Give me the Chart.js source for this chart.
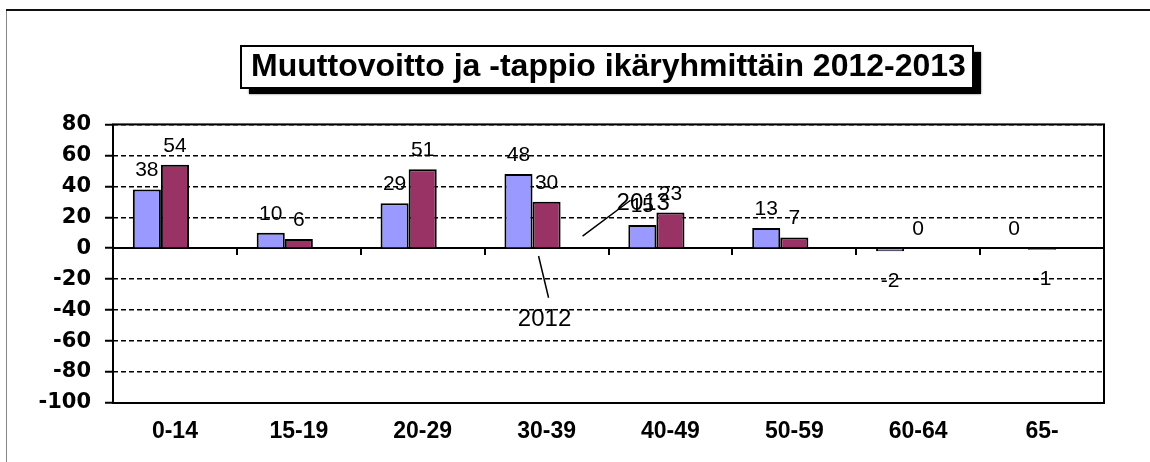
<!DOCTYPE html>
<html>
<head>
<meta charset="utf-8">
<script src="https://cdn.jsdelivr.net/npm/chart.js@4"></script>
<style>
  body { margin: 0; background: #fff; }
  #wrap { width: 1150px; height: 462px; }
</style>
</head>
<body>
<div id="wrap"><canvas id="myChart" width="1150" height="462"></canvas></div>
<script>
const ctx = document.getElementById('myChart');

const ikaryhmat = ['0-14', '15-19', '20-29', '30-39', '40-49', '50-59', '60-64', '65-'];
const muutto2012 = [38, 10, 29, 48, 15, 13, -2, 0];
const muutto2013 = [54, 6, 51, 30, 23, 7, 0, -1];
const yTicks = [80, 60, 40, 20, 0, -20, -40, -60, -80, -100];
const otsikko = 'Muuttovoitto ja -tappio ikäryhmittäin 2012-2013';

const FONT = "'Liberation Sans', Arial, sans-serif";
const LEVEA = "'DejaVu Sans', sans-serif";

// kehys, otsikkolaatikko, nollaviiva, arvot ja vuosiselitteet
const koristeet = {
    id: 'koristeet',
    beforeDraw(chart) {
        const c = chart.ctx;
        c.save();
        c.fillStyle = '#fff';
        c.fillRect(0, 0, chart.width, chart.height);
        // ulkokehys
        c.strokeStyle = '#888';
        c.lineWidth = 1;
        c.beginPath();
        c.moveTo(6.5, 10);
        c.lineTo(6.5, chart.height);
        c.stroke();
        c.strokeStyle = '#111';
        c.lineWidth = 2;
        c.beginPath();
        c.moveTo(6, 10);
        c.lineTo(chart.width, 10);
        c.stroke();

        // otsikon laatikko
        const tb = chart.titleBlock;
        c.font = 'bold 32px ' + FONT;
        const w = c.measureText(otsikko).width;
        const cx = (tb.left + tb.right) / 2;
        const cy = tb.top + tb.options.padding.top + tb.height / 2 - (tb.options.padding.top + tb.options.padding.bottom) / 2;
        const x0 = Math.round(cx - w / 2 - 10), x1 = Math.round(cx + w / 2 + 7);
        const y0 = Math.round(cy - 21), y1 = Math.round(cy + 21);
        c.fillStyle = '#000';
        c.shadowColor = 'rgba(0,0,0,0.6)';
        c.shadowBlur = 2;
        c.fillRect(x0 + 8, y0 + 6, x1 - x0, y1 - y0);
        c.shadowBlur = 0;
        c.fillStyle = '#fff';
        c.fillRect(x0, y0, x1 - x0, y1 - y0);
        c.strokeStyle = '#000';
        c.lineWidth = 2;
        c.strokeRect(x0, y0, x1 - x0, y1 - y0);
        c.restore();
    },
    beforeDatasetsDraw(chart) {
        const c = chart.ctx;
        const x = chart.scales.x, y = chart.scales.y;
        const a = chart.chartArea;
        const y0 = Math.round(y.getPixelForValue(0));
        c.save();
        c.strokeStyle = '#000';
        c.lineWidth = 2;
        c.beginPath();
        c.moveTo(a.left, y0);
        c.lineTo(a.right, y0);
        for (let i = 1; i < ikaryhmat.length; i++) {
            const bx = Math.round((x.getPixelForValue(i - 1) + x.getPixelForValue(i)) / 2);
            c.moveTo(bx, y0);
            c.lineTo(bx, y0 + 7);
        }
        c.stroke();
        c.restore();
    },
    afterDatasetsDraw(chart) {
        const c = chart.ctx;
        const a = chart.chartArea;
        const x = chart.scales.x, y = chart.scales.y;
        c.save();
        // piirtoalueen reunat
        c.strokeStyle = '#000';
        c.lineWidth = 2;
        c.strokeRect(a.left, a.top, a.right - a.left, a.bottom - a.top);

        // arvot
        c.fillStyle = '#000';
        c.font = '21px ' + FONT;
        c.textAlign = 'center';
        [0, 1].forEach(d => {
            const meta = chart.getDatasetMeta(d);
            const vals = chart.data.datasets[d].data;
            meta.data.forEach((el, i) => {
                const v = vals[i];
                if (v >= 0) {
                    c.textBaseline = 'alphabetic';
                    c.fillText(String(v), el.x, el.y - 13);
                } else {
                    c.textBaseline = 'top';
                    c.fillText(String(v), el.x, el.y + 19);
                }
            });
        });

        // vuosiselitteet
        const cx = x.getPixelForValue(3);
        c.lineWidth = 1.5;
        c.beginPath();
        c.moveTo(cx - 8, y.getPixelForValue(-5));
        c.lineTo(cx + 2, y.getPixelForValue(-32));
        c.moveTo(cx + 36, y.getPixelForValue(7.8));
        c.lineTo(cx + 84, y.getPixelForValue(31));
        c.stroke();
        c.font = '24px ' + FONT;
        c.textBaseline = 'middle';
        c.textAlign = 'center';
        c.fillText('2012', cx - 2, y.getPixelForValue(-46));
        c.textAlign = 'left';
        c.fillText('2013', cx + 70, y.getPixelForValue(29));
        c.restore();
    }
};

new Chart(ctx, {
    type: 'bar',
    data: {
        labels: ikaryhmat,
        datasets: [{
            label: '2012',
            data: muutto2012,
            backgroundColor: '#9999FF',
            borderColor: '#000',
            borderWidth: 2
        }, {
            label: '2013',
            data: muutto2013,
            backgroundColor: '#993366',
            borderColor: '#000',
            borderWidth: 2
        }, {
            label: '',
            data: [],  // tyhjä sarja, varaa paikan kuten alkuperäisessä
            backgroundColor: 'transparent'
        }]
    },
    options: {
        responsive: false,
        animation: false,
        categoryPercentage: 0.68,
        barPercentage: 1,
        layout: { padding: { left: 0, right: 46, top: 0, bottom: 0 } },
        plugins: {
            legend: { display: false },
            tooltip: { enabled: false },
            title: {
                display: true,
                text: otsikko,
                fullSize: false,
                color: '#000',
                font: { family: FONT, size: 32, weight: 'bold', lineHeight: 1.2 },
                padding: { top: 48, bottom: 38 }
            }
        },
        scales: {
            x: {
                grid: { display: false, drawTicks: false },
                border: { display: false },
                ticks: {
                    color: '#000',
                    padding: 15,
                    font: { family: FONT, size: 23, weight: 'bold' }
                },
                afterFit: (s) => { s.height = 59; }
            },
            y: {
                min: -100,
                max: 80,
                afterBuildTicks: (s) => { s.ticks = yTicks.map(v => ({ value: v })); },
                grid: {
                    color: '#000',
                    lineWidth: 1.5,
                    tickLength: 8,
                    tickColor: '#000',
                    tickWidth: 2
                },
                border: { display: false, dash: [5, 3] },
                ticks: {
                    color: '#000',
                    padding: 14,
                    font: { family: LEVEA, size: 21, weight: 'bold' }
                },
                afterFit: (s) => { s.width = 113; }
            }
        }
    },
    plugins: [koristeet]
});
</script>
</body>
</html>
